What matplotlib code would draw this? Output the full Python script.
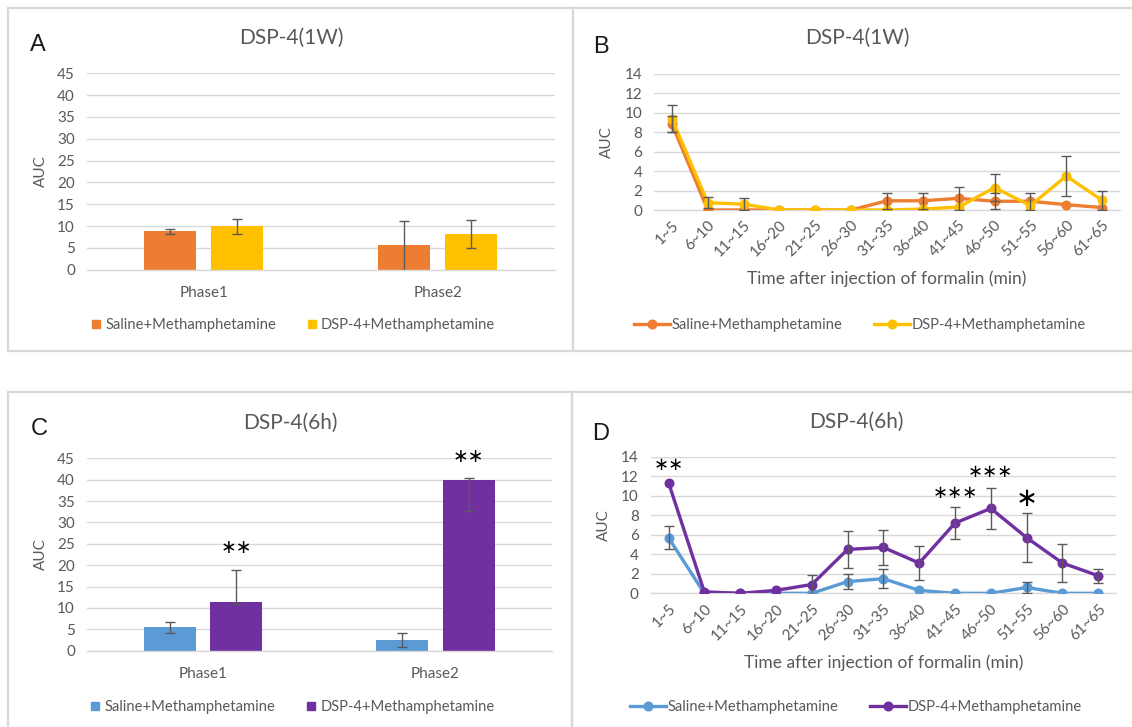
import numpy as np
import matplotlib.pyplot as plt
from matplotlib.patches import Rectangle
from matplotlib.lines import Line2D

W, H = 1132, 727

# bar panels (A, C)
phases = ['Phase1', 'Phase2']
saline_bar_1w = [8.8, 5.6]
saline_bar_1w_err = [0.6, 5.6]
dsp_bar_1w = [9.9, 8.2]
dsp_bar_1w_err = [1.7, 3.25]

saline_bar_6h = [5.5, 2.5]
saline_bar_6h_lo = [1.3, 1.7]
saline_bar_6h_hi = [1.3, 1.6]
dsp_bar_6h = [11.3, 40.0]
dsp_bar_6h_lo = [0.3, 7.3]
dsp_bar_6h_hi = [7.6, 0.5]
bar_stars_6h = ['∗∗', '∗∗']
bar_star_y_6h = [24.1, 45.5]

# time course panels (B, D)
bins = ['1~5', '6~10', '11~15', '16~20', '21~25', '26~30', '31~35',
        '36~40', '41~45', '46~50', '51~55', '56~60', '61~65']
saline_1w = [8.85, 0, 0, 0, 0, 0, 0.95, 0.95, 1.2, 0.9, 0.9, 0.55, 0.25]
saline_1w_err = [0.8, 0, 0, 0, 0, 0, 0.85, 0.85, 1.2, 0.8, 0.9, 0, 0]
dsp_1w = [9.4, 0.75, 0.6, 0, 0, 0, 0, 0.1, 0.3, 2.3, 0.45, 3.5, 1.0]
dsp_1w_err = [1.4, 0.55, 0.6, 0, 0, 0, 0, 0, 0, 1.4, 0, 2.1, 1.0]

saline_6h = [5.7, 0, 0, 0, 0, 1.2, 1.5, 0.3, 0, 0, 0.6, 0, 0]
saline_6h_err = [1.15, 0, 0, 0, 0, 0.75, 0.95, 0, 0, 0, 0.6, 0, 0]
dsp_6h = [11.35, 0.15, 0, 0.3, 0.9, 4.5, 4.7, 3.1, 7.2, 8.7, 5.7, 3.1, 1.8]
dsp_6h_err = [0, 0, 0, 0, 0.95, 1.9, 1.8, 1.7, 1.6, 2.1, 2.5, 1.95, 0.7]
line_star_idx = [0, 8, 9, 10]
line_stars = ['∗∗', '∗∗∗', '∗∗∗', '∗']
line_star_y = [13.1, 10.3, 12.4, 9.7]

ORANGE, YELLOW = '#ED7D31', '#FFC000'
BLUE, PURPLE = '#5B9BD5', '#7030A0'
GRAY_TXT = '#595959'
GRID = '#d9d9d9'
ERR = '#595959'
FONT = 'Lato'
LEG_FS = 10.6
TICK_FS = 11

plt.rcParams['font.family'] = [FONT, 'DejaVu Sans']

fig = plt.figure(figsize=(W / 100, H / 100), dpi=100)


def px_axes(left, right, top, bottom):
    return fig.add_axes([left / W, 1 - bottom / H, (right - left) / W, (bottom - top) / H])


def fx(x):
    return x / W


def fy(y):
    return 1 - y / H


# panel frames
for (x0, y0, x1, y1) in [(8, 8, 573, 351), (573, 8, 1145, 351),
                         (8, 392, 572, 740), (572, 392, 1145, 740)]:
    fig.patches.append(Rectangle((fx(x0), fy(y1)), fx(x1 - x0), (y1 - y0) / H,
                                 transform=fig.transFigure, fill=False,
                                 edgecolor=GRID, lw=1.6))


def style_axes(ax, label_right_px):
    for s in ['top', 'right', 'left']:
        ax.spines[s].set_visible(False)
    ax.spines['bottom'].set_color(GRID)
    ax.spines['bottom'].set_linewidth(1)
    ax.yaxis.grid(True, color=GRID, lw=1)
    ax.set_axisbelow(True)
    ax.tick_params(length=0, labelsize=TICK_FS, colors=GRAY_TXT, pad=8.5)
    ax.set_ylabel('AUC', fontsize=11, color=GRAY_TXT)
    # right edge of the rotated label, in pixels left of the axes
    bb = ax.get_position()
    ax.yaxis.set_label_coords(-label_right_px / (bb.width * W), 0.5)


def bar_panel(ax, saline, s_err, dsp, d_err, c1, c2):
    x = np.arange(len(phases))
    w, off = 0.224, 0.143
    ekw = dict(ecolor=ERR, elinewidth=1, capsize=3.5, capthick=1)
    ax.bar(x - off, saline, w, color=c1, yerr=s_err, error_kw=ekw)
    ax.bar(x + off, dsp, w, color=c2, yerr=d_err, error_kw=ekw)
    ax.set_xlim(-0.5, 1.5)
    ax.set_ylim(0, 45)
    ax.set_yticks(range(0, 46, 5))
    ax.set_xticks(x)
    ax.set_xticklabels(phases)
    style_axes(ax, 39)
    ax.tick_params(axis='x', pad=12)


def line_panel(ax, saline, s_err, dsp, d_err, c1, c2):
    x = np.arange(len(bins))
    for y, e in [(saline, s_err), (dsp, d_err)]:
        y, e = np.array(y), np.array(e)
        m = e > 0
        ax.errorbar(x[m], y[m], yerr=e[m], fmt='none', ecolor=ERR,
                    elinewidth=1, capsize=3.5, capthick=1, zorder=4)
    ax.plot(x, saline, '-o', color=c1, lw=2.4, ms=6.2, zorder=3)
    ax.plot(x, dsp, '-o', color=c2, lw=2.4, ms=6.2, zorder=3.5)
    ax.set_xlim(-0.5, len(bins) - 0.5)
    ax.set_ylim(0, 14)
    ax.set_yticks(range(0, 15, 2))
    ax.set_xticks(x)
    ax.set_xticklabels(bins, rotation=45, ha='right', va='top', rotation_mode='anchor')
    style_axes(ax, 40)
    ax.tick_params(axis='x', pad=6)
    ax.set_xlabel('Time after injection of formalin (min)', fontsize=12.5,
                  color=GRAY_TXT, labelpad=8)


def bar_legend(ax, c1, c2, cx, cy):
    h = [Line2D([], [], ls='none', marker='s', ms=6, color=c) for c in (c1, c2)]
    ax.legend(h, ['Saline+Methamphetamine', 'DSP-4+Methamphetamine'], ncol=2,
              loc='center', bbox_to_anchor=(fx(cx), fy(cy)), bbox_transform=fig.transFigure,
              frameon=False, fontsize=LEG_FS, labelcolor=GRAY_TXT, handlelength=0.6,
              handletextpad=0.33, columnspacing=2.1)


def line_legend(ax, c1, c2, cx, cy):
    h = [Line2D([], [], color=c, lw=2.4, marker='o', ms=6.2) for c in (c1, c2)]
    ax.legend(h, ['Saline+Methamphetamine', 'DSP-4+Methamphetamine'], ncol=2,
              loc='center', bbox_to_anchor=(fx(cx), fy(cy)), bbox_transform=fig.transFigure,
              frameon=False, fontsize=LEG_FS, labelcolor=GRAY_TXT, handlelength=2.45,
              handletextpad=0.15, columnspacing=2.1)


# A
axA = px_axes(86.8, 554.6, 73.3, 269.7)
bar_panel(axA, saline_bar_1w, saline_bar_1w_err, dsp_bar_1w, dsp_bar_1w_err, ORANGE, YELLOW)
bar_legend(axA, ORANGE, YELLOW, 293.6, 325)

# C
axC = px_axes(86.8, 551.8, 458.3, 650.7)
bar_panel(axC, saline_bar_6h, [saline_bar_6h_lo, saline_bar_6h_hi],
          dsp_bar_6h, [dsp_bar_6h_lo, dsp_bar_6h_hi], BLUE, PURPLE)
for i, (s, y) in enumerate(zip(bar_stars_6h, bar_star_y_6h)):
    axC.text(i + 0.143, y, s, ha='center', va='center', fontsize=13.5,
             family='DejaVu Sans', color='black')
bar_legend(axC, BLUE, PURPLE, 292.7, 707)

# B
axB = px_axes(654, 1120, 74, 210)
line_panel(axB, saline_1w, saline_1w_err, dsp_1w, dsp_1w_err, ORANGE, YELLOW)
line_legend(axB, ORANGE, YELLOW, 860, 325)

# D
axD = px_axes(650.6, 1116.2, 456.7, 593.3)
line_panel(axD, saline_6h, saline_6h_err, dsp_6h, dsp_6h_err, BLUE, PURPLE)
for i, s, y in zip(line_star_idx, line_stars, line_star_y):
    axD.text(i, y, s, ha='center', va='center', fontsize=13 if len(s) > 1 else 19,
             family='DejaVu Sans', color='black')
line_legend(axD, BLUE, PURPLE, 856, 707)

# titles and panel letters
for (cx, cy, t) in [(291, 38, 'DSP-4(1W)'), (857, 38, 'DSP-4(1W)'),
                    (290, 423, 'DSP-4(6h)'), (856, 422, 'DSP-4(6h)')]:
    fig.text(fx(cx), fy(cy), t, ha='center', va='center', fontsize=15, color=GRAY_TXT)
for (cx, cy, t) in [(38, 45, 'A'), (601, 47, 'B'), (39, 429, 'C'), (601, 434, 'D')]:
    fig.text(fx(cx), fy(cy), t, ha='center', va='center', fontsize=17,
             family='Liberation Sans', color='#1a1a1a')

fig.savefig('out.png', dpi=100)
